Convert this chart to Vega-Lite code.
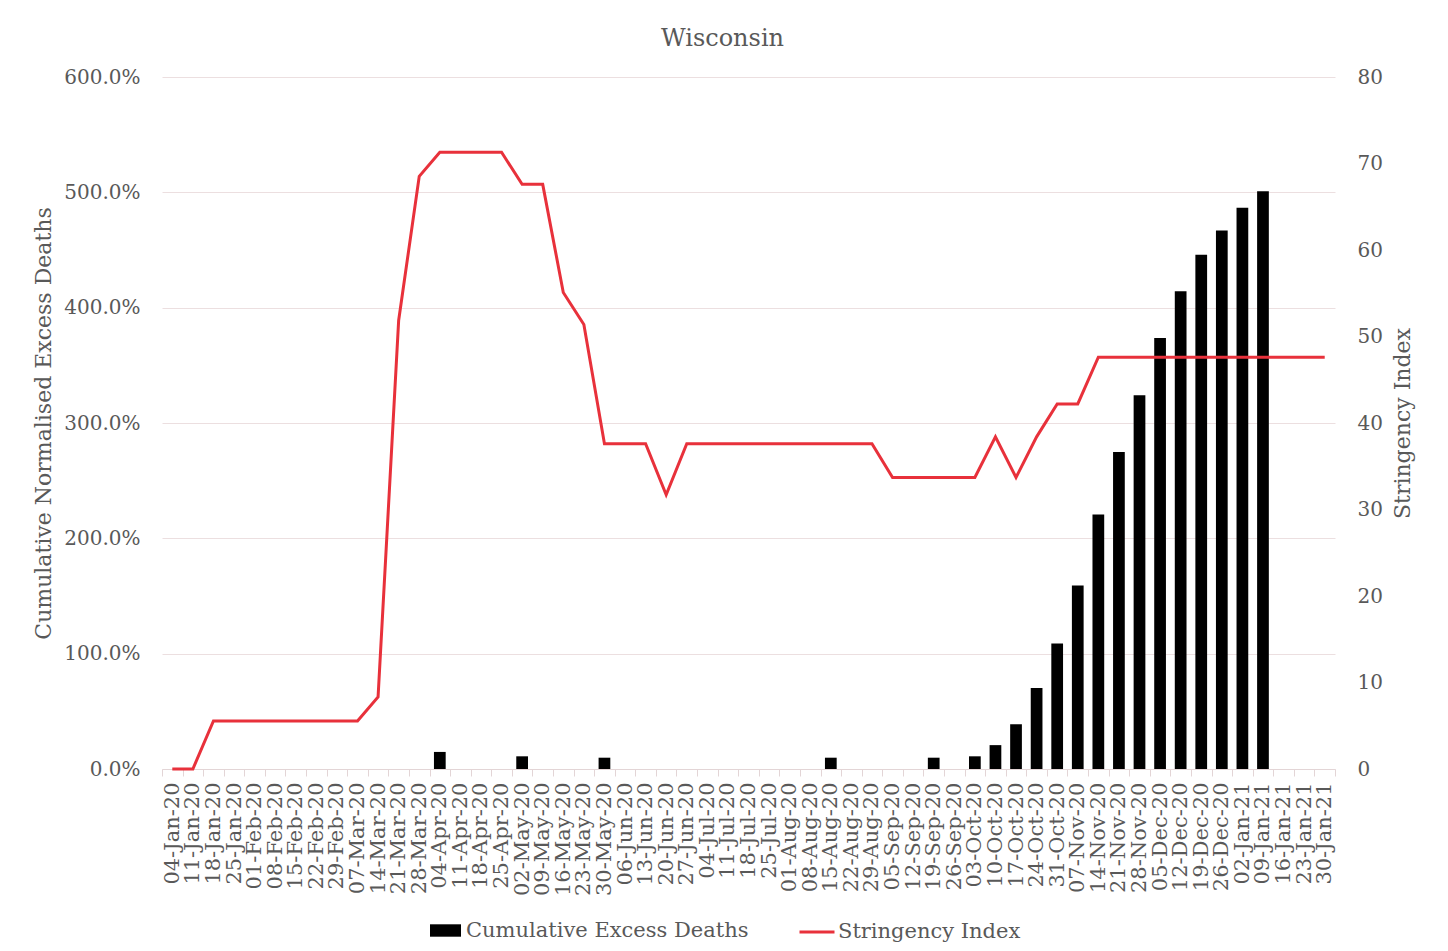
{
  "$schema": "https://vega.github.io/schema/vega-lite/v6.json",
  "width": 1173,
  "height": 692,
  "autosize": "none",
  "padding": {"left": 162, "top": 77, "right": 113, "bottom": 182},
  "background": "white",
  "title": {"text": "Wisconsin", "font": "DejaVu Serif", "fontSize": 24, "fontWeight": "normal", "color": "#595959", "offset": 16, "dx": -26},
  "config": {
    "view": {"stroke": null},
    "axis": {"labelFont": "DejaVu Serif", "labelFontSize": 20, "labelColor": "#595959", "titleFont": "DejaVu Serif", "titleFontSize": 22, "titleFontWeight": "normal", "titleColor": "#595959"},
    "legend": {"labelFont": "DejaVu Serif", "labelFontSize": 21, "labelColor": "#595959", "labelLimit": 0}
  },
  "data": {"values": [
    {"week": "04-Jan-20", "deaths": 0, "si": 0},
    {"week": "11-Jan-20", "deaths": 0, "si": 0},
    {"week": "18-Jan-20", "deaths": 0, "si": 5.56},
    {"week": "25-Jan-20", "deaths": 0, "si": 5.56},
    {"week": "01-Feb-20", "deaths": 0, "si": 5.56},
    {"week": "08-Feb-20", "deaths": 0, "si": 5.56},
    {"week": "15-Feb-20", "deaths": 0, "si": 5.56},
    {"week": "22-Feb-20", "deaths": 0, "si": 5.56},
    {"week": "29-Feb-20", "deaths": 0, "si": 5.56},
    {"week": "07-Mar-20", "deaths": 0, "si": 5.56},
    {"week": "14-Mar-20", "deaths": 0, "si": 8.33},
    {"week": "21-Mar-20", "deaths": 0, "si": 51.85},
    {"week": "28-Mar-20", "deaths": 0, "si": 68.52},
    {"week": "04-Apr-20", "deaths": 0.148, "si": 71.3},
    {"week": "11-Apr-20", "deaths": 0, "si": 71.3},
    {"week": "18-Apr-20", "deaths": 0, "si": 71.3},
    {"week": "25-Apr-20", "deaths": 0, "si": 71.3},
    {"week": "02-May-20", "deaths": 0.11, "si": 67.59},
    {"week": "09-May-20", "deaths": 0, "si": 67.59},
    {"week": "16-May-20", "deaths": 0, "si": 55.09},
    {"week": "23-May-20", "deaths": 0, "si": 51.39},
    {"week": "30-May-20", "deaths": 0.098, "si": 37.6},
    {"week": "06-Jun-20", "deaths": 0, "si": 37.6},
    {"week": "13-Jun-20", "deaths": 0, "si": 37.6},
    {"week": "20-Jun-20", "deaths": 0, "si": 31.7},
    {"week": "27-Jun-20", "deaths": 0, "si": 37.6},
    {"week": "04-Jul-20", "deaths": 0, "si": 37.6},
    {"week": "11-Jul-20", "deaths": 0, "si": 37.6},
    {"week": "18-Jul-20", "deaths": 0, "si": 37.6},
    {"week": "25-Jul-20", "deaths": 0, "si": 37.6},
    {"week": "01-Aug-20", "deaths": 0, "si": 37.6},
    {"week": "08-Aug-20", "deaths": 0, "si": 37.6},
    {"week": "15-Aug-20", "deaths": 0.098, "si": 37.6},
    {"week": "22-Aug-20", "deaths": 0, "si": 37.6},
    {"week": "29-Aug-20", "deaths": 0, "si": 37.6},
    {"week": "05-Sep-20", "deaths": 0, "si": 33.7},
    {"week": "12-Sep-20", "deaths": 0, "si": 33.7},
    {"week": "19-Sep-20", "deaths": 0.098, "si": 33.7},
    {"week": "26-Sep-20", "deaths": 0, "si": 33.7},
    {"week": "03-Oct-20", "deaths": 0.11, "si": 33.7},
    {"week": "10-Oct-20", "deaths": 0.207, "si": 38.4},
    {"week": "17-Oct-20", "deaths": 0.388, "si": 33.7},
    {"week": "24-Oct-20", "deaths": 0.703, "si": 38.4},
    {"week": "31-Oct-20", "deaths": 1.088, "si": 42.2},
    {"week": "07-Nov-20", "deaths": 1.592, "si": 42.2},
    {"week": "14-Nov-20", "deaths": 2.207, "si": 47.6},
    {"week": "21-Nov-20", "deaths": 2.748, "si": 47.6},
    {"week": "28-Nov-20", "deaths": 3.24, "si": 47.6},
    {"week": "05-Dec-20", "deaths": 3.736, "si": 47.6},
    {"week": "12-Dec-20", "deaths": 4.143, "si": 47.6},
    {"week": "19-Dec-20", "deaths": 4.458, "si": 47.6},
    {"week": "26-Dec-20", "deaths": 4.669, "si": 47.6},
    {"week": "02-Jan-21", "deaths": 4.866, "si": 47.6},
    {"week": "09-Jan-21", "deaths": 5.009, "si": 47.6},
    {"week": "16-Jan-21", "deaths": 0, "si": 47.6},
    {"week": "23-Jan-21", "deaths": 0, "si": 47.6},
    {"week": "30-Jan-21", "deaths": 0, "si": 47.6}
  ]},
  "encoding": {
    "x": {"field": "week", "type": "ordinal", "sort": null,
      "scale": {"paddingInner": 0, "paddingOuter": 0},
      "axis": {"title": null, "labelAngle": -90, "labelOverlap": false, "labelFontSize": 21, "labelPadding": 6, "tickBand": "extent", "tickSize": 7, "tickColor": "#e3d5d6", "domainColor": "#e3d5d6", "grid": false}}
  },
  "layer": [
    {
      "mark": {"type": "bar", "width": {"band": 0.57}},
      "encoding": {
        "y": {"field": "deaths", "type": "quantitative", "scale": {"domain": [0, 6], "nice": false},
          "axis": {"title": "Cumulative Normalised Excess Deaths", "values": [0, 1, 2, 3, 4, 5, 6], "format": ".1%", "domain": false, "ticks": false, "labelPadding": 22, "grid": true, "gridColor": "#ecdfe0", "titlePadding": 8}},
        "color": {"datum": "Cumulative Excess Deaths", "type": "nominal", "scale": {"range": ["#000000"]},
          "legend": {"title": null, "orient": "none", "legendX": 268, "legendY": 838, "padding": 0, "symbolType": "M-1,-0.4H1V0.4H-1Z", "symbolSize": 961, "symbolStrokeWidth": 0, "labelOffset": 5}}
      }
    },
    {
      "mark": {"type": "line", "strokeWidth": 3},
      "encoding": {
        "y": {"field": "si", "type": "quantitative", "scale": {"domain": [0, 80], "nice": false},
          "axis": {"title": "Stringency Index", "orient": "right", "values": [0, 10, 20, 30, 40, 50, 60, 70, 80], "domain": false, "ticks": false, "grid": false, "labelPadding": 22, "titleAngle": -90, "titleBaseline": "top", "titlePadding": 10}},
        "stroke": {"datum": "Stringency Index", "type": "nominal", "scale": {"range": ["#e8313b"]},
          "legend": {"title": null, "orient": "none", "legendX": 636, "legendY": 836, "padding": 0, "symbolType": "stroke", "symbolSize": 1225, "symbolStrokeWidth": 3, "labelOffset": 2}}
      }
    }
  ],
  "resolve": {"scale": {"y": "independent", "color": "independent", "stroke": "independent"}}
}
